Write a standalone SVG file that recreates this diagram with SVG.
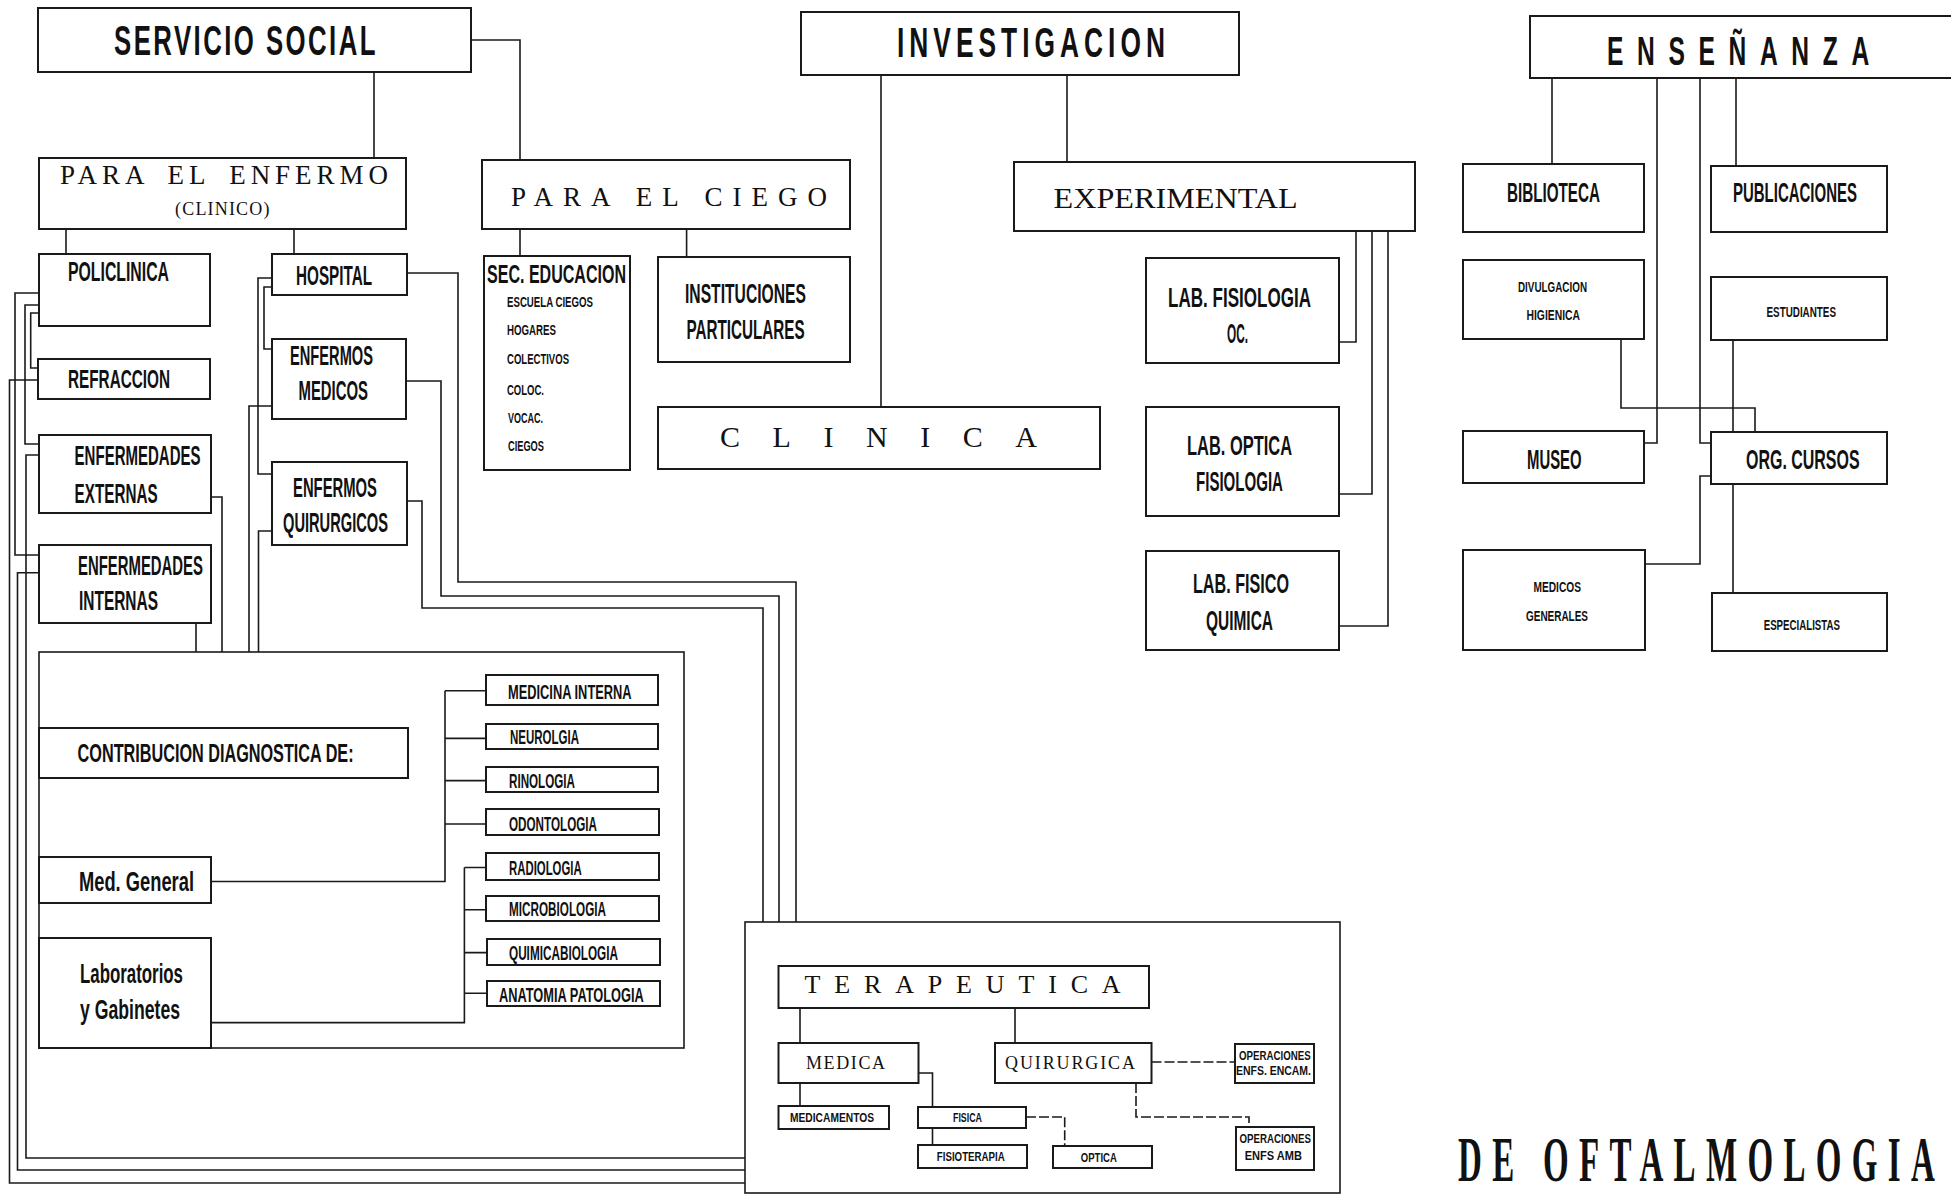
<svg xmlns="http://www.w3.org/2000/svg" width="1951" height="1195" viewBox="0 0 1951 1195">
<style>
.b{fill:#fff;stroke:#1a1a1a;stroke-width:2}
.l{fill:none;stroke:#1a1a1a;stroke-width:1.6}
.d{fill:none;stroke:#1a1a1a;stroke-width:1.6;stroke-dasharray:10 3}
.s{font-family:"Liberation Sans",Arial,sans-serif;font-weight:bold;fill:#111}
.r{font-family:"Liberation Serif","Times New Roman",serif;fill:#111}
</style>
<rect width="1951" height="1195" fill="#fff"/>
<g id="connectors">
<path class="l" d="M374,72V158M471,40H520V160M66,229V254M294,229V254M520,229V256M686.6,229V257"/>
<path class="l" d="M881,75V407M1067,75V162M1356,231V342H1339M1372,231V494H1339M1388,231V626H1339"/>
<path class="l" d="M1552,78V164M1736,78V166M1657,78V443H1644M1700,78V443H1711M1621,339V408H1755V432M1733,340V432M1733,484V593M1711,476H1700V564H1645"/>
<path class="l" d="M39,293H15V555H39M39,305H25V444H39M39,313H30.7V368H38M38,380H9.5V1183H745M39,455H26V1158H745M39,572.7H17.5V1170H745"/>
<path class="l" d="M211,497H222V652M196,623V652M272,278H258V474H272M272,287H264V349H272M272,406H249V652M272,531H258.5V652"/>
<path class="l" d="M407,273H458V582H796V922M406,381H441V596H779V922M407,501H422V608H763V922"/>
<path class="l" d="M211,881.5H445V690.8M445,690.8H486M445,738.4H486M445,780.6H486M445,824H486"/>
<path class="l" d="M211,1022.6H464.4V867.5M464.4,867.5H486M464.4,909.7H486M464.4,952.6H486M464.4,993.3H487"/>
<path class="l" d="M800,1008V1043M1015,1008V1043M800,1083V1106M918.6,1073H932.5V1107M932.5,1128V1145"/>
<path class="d" d="M1026,1117H1064.7V1146M1151.5,1062H1235M1136,1083V1117H1249V1127"/>
</g>
<g id="servicio-social"><rect class="b" x="38" y="8" width="433" height="64"/><text class="s" x="114" y="55" font-size="42" letter-spacing="4" textLength="264" lengthAdjust="spacingAndGlyphs">SERVICIO SOCIAL</text></g>
<g id="para-el-enfermo"><rect class="b" x="39" y="158" width="367" height="71"/><text class="r" x="60" y="184" font-size="27" word-spacing="8" textLength="328" lengthAdjust="spacing">PARA EL ENFERMO</text><text class="r" x="175" y="215" font-size="18" textLength="94.5" lengthAdjust="spacing">(CLINICO)</text></g>
<g id="policlinica"><rect class="b" x="39" y="254" width="171" height="72"/><text class="s" x="68" y="281" font-size="27" textLength="101" lengthAdjust="spacingAndGlyphs">POLICLINICA</text></g>
<g id="hospital"><rect class="b" x="272" y="254" width="135" height="41"/><text class="s" x="296" y="285" font-size="28" textLength="76" lengthAdjust="spacingAndGlyphs">HOSPITAL</text></g>
<g id="refraccion"><rect class="b" x="38" y="359" width="172" height="40"/><text class="s" x="68" y="388" font-size="26" textLength="102" lengthAdjust="spacingAndGlyphs">REFRACCION</text></g>
<g id="enf-externas"><rect class="b" x="39" y="435" width="172" height="78"/><text class="s" x="74.6" y="465" font-size="27" textLength="126" lengthAdjust="spacingAndGlyphs">ENFERMEDADES</text><text class="s" x="74.6" y="503" font-size="27" textLength="83" lengthAdjust="spacingAndGlyphs">EXTERNAS</text></g>
<g id="enf-internas"><rect class="b" x="39" y="545" width="172" height="78"/><text class="s" x="78" y="575" font-size="27" textLength="125" lengthAdjust="spacingAndGlyphs">ENFERMEDADES</text><text class="s" x="79" y="610" font-size="27" textLength="79" lengthAdjust="spacingAndGlyphs">INTERNAS</text></g>
<g id="enfermos-medicos"><rect class="b" x="272" y="339" width="134" height="80"/><text class="s" x="290" y="365" font-size="27" textLength="83" lengthAdjust="spacingAndGlyphs">ENFERMOS</text><text class="s" x="298.5" y="400" font-size="27" textLength="69.5" lengthAdjust="spacingAndGlyphs">MEDICOS</text></g>
<g id="enfermos-quirurgicos"><rect class="b" x="272" y="462" width="135" height="83"/><text class="s" x="293" y="497" font-size="27" textLength="84" lengthAdjust="spacingAndGlyphs">ENFERMOS</text><text class="s" x="283" y="532" font-size="28" textLength="105" lengthAdjust="spacingAndGlyphs">QUIRURGICOS</text></g>
<g id="para-el-ciego"><rect class="b" x="482" y="160" width="368" height="69"/><text class="r" x="511" y="206" font-size="27" textLength="316" lengthAdjust="spacing">PARA EL CIEGO</text></g>
<g id="sec-educacion"><rect class="b" x="484" y="256" width="146" height="214"/><text class="s" x="487" y="283" font-size="26" textLength="139" lengthAdjust="spacingAndGlyphs">SEC. EDUCACION</text>
<text class="s" x="507" y="307" font-size="14" textLength="86" lengthAdjust="spacingAndGlyphs">ESCUELA CIEGOS</text>
<text class="s" x="507" y="335" font-size="14" textLength="49" lengthAdjust="spacingAndGlyphs">HOGARES</text>
<text class="s" x="507" y="364" font-size="14" textLength="62" lengthAdjust="spacingAndGlyphs">COLECTIVOS</text>
<text class="s" x="507" y="395" font-size="14" textLength="37" lengthAdjust="spacingAndGlyphs">COLOC.</text>
<text class="s" x="508" y="423" font-size="14" textLength="35" lengthAdjust="spacingAndGlyphs">VOCAC.</text>
<text class="s" x="508" y="451" font-size="14" textLength="36" lengthAdjust="spacingAndGlyphs">CIEGOS</text></g>
<g id="instituciones"><rect class="b" x="658" y="257" width="192" height="105"/><text class="s" x="685" y="303" font-size="27" textLength="121" lengthAdjust="spacingAndGlyphs">INSTITUCIONES</text><text class="s" x="686.6" y="339" font-size="27" textLength="118" lengthAdjust="spacingAndGlyphs">PARTICULARES</text></g>
<g id="clinica"><rect class="b" x="658" y="407" width="442" height="62"/><text class="r" x="720" y="447" font-size="30" textLength="317" lengthAdjust="spacing">CLINICA</text></g>
<g id="investigacion"><rect class="b" x="801" y="12" width="438" height="63"/><text class="s" x="897" y="57" font-size="42" letter-spacing="8" textLength="273" lengthAdjust="spacingAndGlyphs">INVESTIGACION</text></g>
<g id="experimental"><rect class="b" x="1014" y="162" width="401" height="69"/><text class="r" x="1053.6" y="208" font-size="29" textLength="244" lengthAdjust="spacingAndGlyphs">EXPERIMENTAL</text></g>
<g id="lab-fisiologia"><rect class="b" x="1146" y="258" width="193" height="105"/><text class="s" x="1168" y="307" font-size="27" textLength="143" lengthAdjust="spacingAndGlyphs">LAB.  FISIOLOGIA</text><text class="s" x="1227" y="343" font-size="27" textLength="21" lengthAdjust="spacingAndGlyphs">OC.</text></g>
<g id="lab-optica"><rect class="b" x="1146" y="407" width="193" height="109"/><text class="s" x="1187" y="455" font-size="27" textLength="105" lengthAdjust="spacingAndGlyphs">LAB. OPTICA</text><text class="s" x="1196" y="491" font-size="27" textLength="87" lengthAdjust="spacingAndGlyphs">FISIOLOGIA</text></g>
<g id="lab-fisico"><rect class="b" x="1146" y="551" width="193" height="99"/><text class="s" x="1193" y="593" font-size="27" textLength="96" lengthAdjust="spacingAndGlyphs">LAB. FISICO</text><text class="s" x="1206" y="630" font-size="27" textLength="67" lengthAdjust="spacingAndGlyphs">QUIMICA</text></g>
<g id="ensenanza"><rect class="b" x="1530" y="16" width="440" height="62"/><text class="s" transform="translate(1607,65) scale(0.593,1)" font-size="41.5" letter-spacing="23">ENSEÑANZA</text></g>
<g id="biblioteca"><rect class="b" x="1463" y="164" width="181" height="68"/><text class="s" x="1507" y="202" font-size="28" textLength="93" lengthAdjust="spacingAndGlyphs">BIBLIOTECA</text></g>
<g id="publicaciones"><rect class="b" x="1711" y="166" width="176" height="66"/><text class="s" transform="translate(1733,202) scale(0.535,1)" font-size="28">PUBLICACIONES</text></g>
<g id="divulgacion"><rect class="b" x="1463" y="260" width="181" height="79"/><text class="s" x="1518" y="291.5" font-size="14" textLength="69" lengthAdjust="spacingAndGlyphs">DIVULGACION</text><text class="s" x="1526.5" y="320" font-size="14" textLength="53.5" lengthAdjust="spacingAndGlyphs">HIGIENICA</text></g>
<g id="estudiantes"><rect class="b" x="1711" y="277" width="176" height="63"/><text class="s" x="1766.5" y="317" font-size="14" textLength="69.5" lengthAdjust="spacingAndGlyphs">ESTUDIANTES</text></g>
<g id="museo"><rect class="b" x="1463" y="431" width="181" height="52"/><text class="s" x="1527" y="469" font-size="28" textLength="54.6" lengthAdjust="spacingAndGlyphs">MUSEO</text></g>
<g id="org-cursos"><rect class="b" x="1711" y="432" width="176" height="52"/><text class="s" x="1746" y="469" font-size="28" textLength="113.6" lengthAdjust="spacingAndGlyphs">ORG.  CURSOS</text></g>
<g id="medicos-generales"><rect class="b" x="1463" y="550" width="182" height="100"/><text class="s" x="1533.5" y="592" font-size="14" textLength="47.5" lengthAdjust="spacingAndGlyphs">MEDICOS</text><text class="s" x="1526" y="621" font-size="14" textLength="62" lengthAdjust="spacingAndGlyphs">GENERALES</text></g>
<g id="especialistas"><rect class="b" x="1712" y="593" width="175" height="58"/><text class="s" x="1763.7" y="629.5" font-size="14" textLength="76.3" lengthAdjust="spacingAndGlyphs">ESPECIALISTAS</text></g>
<g id="diagnostico">
<rect class="l" x="39" y="652" width="645" height="396"/>
<g id="contribucion"><rect class="b" x="39" y="728" width="369" height="50"/><text class="s" x="77.6" y="762" font-size="26.5" textLength="276" lengthAdjust="spacingAndGlyphs">CONTRIBUCION DIAGNOSTICA DE:</text></g>
<g id="med-general"><rect class="b" x="39" y="857" width="172" height="46"/><text class="s" x="79" y="890.6" font-size="27" textLength="115" lengthAdjust="spacingAndGlyphs">Med. General</text></g>
<g id="laboratorios"><rect class="b" x="39" y="938" width="172" height="110"/><text class="s" x="80" y="983" font-size="28" textLength="103" lengthAdjust="spacingAndGlyphs">Laboratorios</text><text class="s" x="80" y="1018.6" font-size="28" textLength="100" lengthAdjust="spacingAndGlyphs">y Gabinetes</text></g>
<g id="medicina-interna"><rect class="b" x="486" y="675" width="172" height="30"/><text class="s" x="508" y="699" font-size="21" textLength="123.6" lengthAdjust="spacingAndGlyphs">MEDICINA INTERNA</text></g>
<g id="neurolgia"><rect class="b" x="486" y="724" width="172" height="25"/><text class="s" x="510" y="744" font-size="21" textLength="69" lengthAdjust="spacingAndGlyphs">NEUROLGIA</text></g>
<g id="rinologia"><rect class="b" x="486" y="767" width="172" height="25"/><text class="s" x="509" y="788" font-size="21" textLength="66" lengthAdjust="spacingAndGlyphs">RINOLOGIA</text></g>
<g id="odontologia"><rect class="b" x="486" y="809" width="173" height="26"/><text class="s" x="509" y="831" font-size="21" textLength="88" lengthAdjust="spacingAndGlyphs">ODONTOLOGIA</text></g>
<g id="radiologia"><rect class="b" x="486" y="853" width="173" height="27"/><text class="s" x="509" y="875" font-size="21" textLength="72.7" lengthAdjust="spacingAndGlyphs">RADIOLOGIA</text></g>
<g id="microbiologia"><rect class="b" x="486" y="896" width="173" height="25"/><text class="s" x="509" y="916" font-size="21" textLength="97" lengthAdjust="spacingAndGlyphs">MICROBIOLOGIA</text></g>
<g id="quimicabiologia"><rect class="b" x="487" y="939" width="173" height="26"/><text class="s" x="509" y="960" font-size="21" textLength="109" lengthAdjust="spacingAndGlyphs">QUIMICABIOLOGIA</text></g>
<g id="anatomia-patologia"><rect class="b" x="487" y="981" width="173" height="25"/><text class="s" x="499" y="1002" font-size="21" textLength="144.7" lengthAdjust="spacingAndGlyphs">ANATOMIA PATOLOGIA</text></g>
</g>
<g id="terapeutica-area">
<rect class="l" x="745" y="922" width="595" height="271"/>
<g id="terapeutica"><rect class="b" x="778.5" y="966" width="370.5" height="42"/><text class="r" x="804.6" y="993" font-size="26" textLength="316" lengthAdjust="spacing">TERAPEUTICA</text></g>
<g id="medica"><rect class="b" x="778.5" y="1043" width="140" height="40"/><text class="r" x="806" y="1069" font-size="18" textLength="79" lengthAdjust="spacing">MEDICA</text></g>
<g id="quirurgica"><rect class="b" x="995" y="1043" width="156.5" height="40"/><text class="r" x="1005" y="1069" font-size="18" textLength="130" lengthAdjust="spacing">QUIRURGICA</text></g>
<g id="medicamentos"><rect class="b" x="778.5" y="1106" width="110.5" height="23"/><text class="s" x="790" y="1121.7" font-size="12" textLength="84" lengthAdjust="spacingAndGlyphs">MEDICAMENTOS</text></g>
<g id="fisica"><rect class="b" x="918" y="1107" width="108" height="21"/><text class="s" x="953" y="1121.7" font-size="12" textLength="29" lengthAdjust="spacingAndGlyphs">FISICA</text></g>
<g id="fisioterapia"><rect class="b" x="918" y="1145" width="109" height="23"/><text class="s" x="936.8" y="1161" font-size="12" textLength="68" lengthAdjust="spacingAndGlyphs">FISIOTERAPIA</text></g>
<g id="optica"><rect class="b" x="1053" y="1146" width="99" height="22"/><text class="s" x="1080.8" y="1162" font-size="12" textLength="36" lengthAdjust="spacingAndGlyphs">OPTICA</text></g>
<g id="oper-encam"><rect class="b" x="1235" y="1044" width="79" height="39"/><text class="s" x="1239" y="1060" font-size="12" textLength="71.6" lengthAdjust="spacingAndGlyphs">OPERACIONES</text><text class="s" x="1236" y="1075" font-size="12" textLength="75" lengthAdjust="spacingAndGlyphs">ENFS. ENCAM.</text></g>
<g id="oper-amb"><rect class="b" x="1236" y="1127" width="78" height="43"/><text class="s" x="1239.5" y="1143" font-size="12" textLength="71.5" lengthAdjust="spacingAndGlyphs">OPERACIONES</text><text class="s" x="1244.7" y="1160" font-size="12" textLength="57.3" lengthAdjust="spacingAndGlyphs">ENFS  AMB</text></g>
</g>
<text id="title" class="r" transform="translate(1458,1181) scale(0.516,1)" font-size="64" font-weight="bold" letter-spacing="20">DE OFTALMOLOGIA</text>
</svg>
